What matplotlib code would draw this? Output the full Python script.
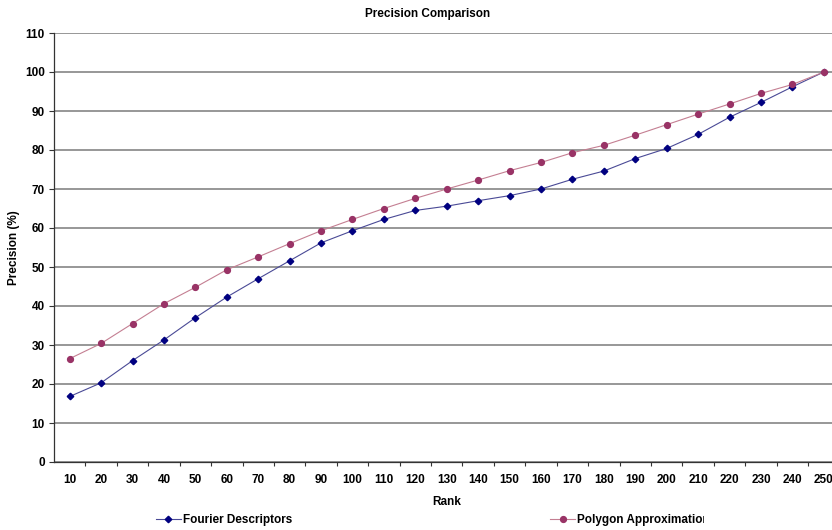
import numpy as np
import matplotlib
matplotlib.use("Agg")
import matplotlib.pyplot as plt
from matplotlib.patches import Rectangle

rank = [10, 20, 30, 40, 50, 60, 70, 80, 90, 100, 110, 120, 130,
        140, 150, 160, 170, 180, 190, 200, 210, 220, 230, 240, 250]
fourier = [16.8, 20.3, 26.0, 31.3, 37.0, 42.3, 47.0, 51.6, 56.2, 59.3, 62.2, 64.5, 65.6,
           67.0, 68.3, 70.0, 72.5, 74.6, 77.8, 80.4, 84.0, 88.4, 92.2, 96.2, 100.0]
polygon = [26.5, 30.4, 35.5, 40.6, 44.8, 49.3, 52.6, 56.0, 59.3, 62.2, 65.0, 67.6, 70.0,
           72.3, 74.7, 76.8, 79.3, 81.2, 83.8, 86.5, 89.2, 91.8, 94.5, 96.8, 100.0]
yticks = list(range(0, 111, 10))

plt.rcParams['font.family'] = ['Liberation Sans', 'DejaVu Sans']
plt.rcParams['font.weight'] = 'bold'
plt.rcParams['axes.labelweight'] = 'bold'
plt.rcParams['font.size'] = 8.5

W, H = 832, 530
fig = plt.figure(figsize=(W / 100, H / 100), dpi=100)
ax = fig.add_axes([54 / W, 68 / H, 785.5 / W, 429 / H])

l1, = ax.plot(rank, fourier, color='#4a4a96', lw=0.8, marker='D', markersize=3.3,
              markerfacecolor='#000080', markeredgecolor='#000080',
              label='Fourier Descriptors')
l2, = ax.plot(rank, polygon, color='#c47f92', lw=0.8, marker='o', markersize=4.2,
              markerfacecolor='#993366', markeredgecolor='#993366',
              label='Polygon Approximation')

ax.set_ylim(0, 110)
ax.set_yticks(yticks)
ax.set_xlim(5, 255)
ax.set_xticks(rank)
ax.set_xticks(np.arange(15, 256, 10), minor=True)
ax.tick_params(axis='x', which='major', length=0, pad=8.6)
ax.tick_params(axis='x', which='minor', length=3, width=0.8, direction='out', color='#333333')
ax.tick_params(axis='y', length=3.6, width=0.8, pad=2.9, color='#333333')

ax.grid(axis='y', color='#858585', lw=1.2)
ax.set_axisbelow(True)
for s in ['top', 'right']:
    ax.spines[s].set_visible(False)
for s in ['left', 'bottom']:
    ax.spines[s].set_color('#333333')
    ax.spines[s].set_linewidth(0.9)

ax.set_xlabel('Rank', labelpad=7)
ax.set_ylabel('Precision (%)', labelpad=3.6)
fig.text(428 / W, 1 - 14 / H, 'Precision Comparison', ha='center', va='center')

leg = fig.legend(handles=[l1, l2], loc='center left', bbox_to_anchor=(150 / W, 10 / H),
                 ncol=2, frameon=False, borderpad=0, handlelength=2.1,
                 handletextpad=0.17, columnspacing=21.9)
# the legend box of the original is cut off after "Approximatio"
fig.add_artist(Rectangle((704 / W, 0), 1, 22 / H, transform=fig.transFigure,
                         facecolor='white', edgecolor='none', zorder=10))

fig.savefig('out.png', dpi=100)
